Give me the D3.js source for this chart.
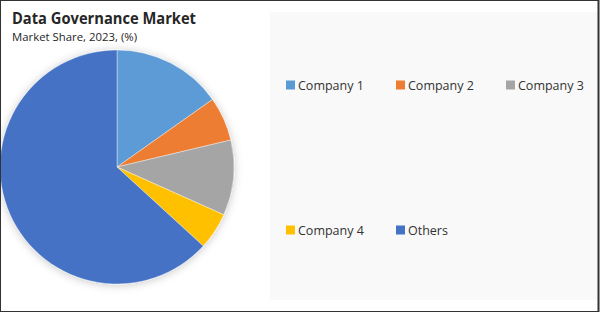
<!DOCTYPE html>
<html>
<head>
<meta charset="utf-8">
<script src="https://cdn.jsdelivr.net/npm/d3@7"></script>
<style>
  html, body { margin: 0; padding: 0; background: #fff; }
  svg { display: block; }
</style>
</head>
<body>
<svg id="chart" width="600" height="312"></svg>
<script>
// chart data
const categories = ["Company 1", "Company 2", "Company 3", "Company 4", "Others"];
const shares = [15.2, 6.1, 10.4, 5.1, 63.2];
const sliceColors = ["#5B9BD5", "#ED7D31", "#A5A5A5", "#FFC000", "#4472C4"];

const width = 600;
const height = 312;
const svg = d3.select("#chart");

// soft shadow behind the pie
const defs = svg.append("defs");
const shadow = defs.append("filter").attr("id", "shadow")
  .attr("x", "-20%").attr("y", "-20%").attr("width", "140%").attr("height", "140%");
shadow.append("feDropShadow")
  .attr("dx", 0).attr("dy", 1).attr("stdDeviation", 4)
  .attr("flood-color", "#000").attr("flood-opacity", 0.22);

// legend panel
svg.append("rect")
  .attr("x", 270).attr("y", 12).attr("width", 327).attr("height", 288)
  .attr("fill", "#f9f9f9");

// title
svg.append("text")
  .attr("x", 12).attr("y", 24)
  .attr("font-family", "'Open Sans', sans-serif")
  .attr("font-weight", "bold").attr("font-size", 16.5)
  .attr("textLength", 184).attr("lengthAdjust", "spacingAndGlyphs")
  .attr("fill", "#262626")
  .text("Data Governance Market");

svg.append("text")
  .attr("x", 12).attr("y", 41)
  .attr("font-family", "'Open Sans', sans-serif")
  .attr("font-size", 11.5)
  .attr("textLength", 125).attr("lengthAdjust", "spacingAndGlyphs")
  .attr("fill", "#262626")
  .text("Market Share, 2023, (%)");

// pie
const color = d3.scaleOrdinal().domain(categories).range(sliceColors);
const pie = d3.pie().sort(null).value(d => d.value);
const arc = d3.arc().innerRadius(0).outerRadius(117);
const data = categories.map((c, i) => ({ name: c, value: shares[i] }));

const g = svg.append("g")
  .attr("transform", "translate(117,167)")
  .attr("filter", "url(#shadow)");

g.selectAll("path")
  .data(pie(data))
  .enter()
  .append("path")
  .attr("d", arc)
  .attr("fill", d => color(d.data.name))
  .attr("stroke", "#fff")
  .attr("stroke-width", 0.4);

// legend: two rows
const legendPos = [
  [286, 85], [396, 85], [506, 85],
  [286, 230], [396, 230]
];
const legend = svg.append("g")
  .selectAll("g")
  .data(categories)
  .enter()
  .append("g")
  .attr("transform", (d, i) => `translate(${legendPos[i][0]},${legendPos[i][1]})`);

legend.append("rect")
  .attr("x", 0).attr("y", -4.5)
  .attr("width", 9).attr("height", 9)
  .attr("fill", d => color(d));

legend.append("text")
  .attr("x", 12).attr("y", 0)
  .attr("dy", "0.36em")
  .attr("font-family", "'Open Sans', sans-serif")
  .attr("font-size", 12.5)
  .attr("fill", "#333")
  .text(d => d);

// outer frame
svg.append("rect")
  .attr("x", 0.5).attr("y", 0.5)
  .attr("width", width - 2).attr("height", height - 1)
  .attr("fill", "none")
  .attr("stroke", "#333").attr("stroke-width", 1);
svg.append("line")
  .attr("x1", 598.5).attr("x2", 598.5).attr("y1", 0).attr("y2", height)
  .attr("stroke", "#333").attr("stroke-width", 2);
</script>
</body>
</html>
